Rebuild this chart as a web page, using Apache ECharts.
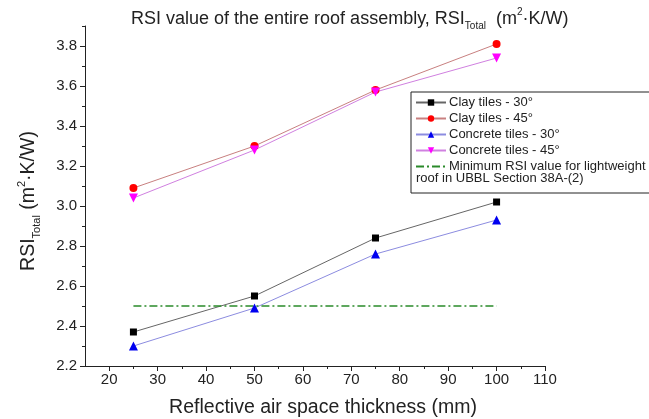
<!DOCTYPE html>
<html>
<head>
<meta charset="utf-8">
<script src="https://cdn.jsdelivr.net/npm/echarts@6/dist/echarts.min.js"></script>
<style>html,body{margin:0;padding:0;background:#fff;}#c{width:649px;height:419px;}</style>
</head>
<body>
<div id="c"></div>
<script>
const thickness = [25, 50, 75, 100];
const clay30 = [2.37, 2.55, 2.84, 3.02];
const clay45 = [3.09, 3.30, 3.58, 3.81];
const concrete30 = [2.30, 2.49, 2.76, 2.93];
const concrete45 = [3.04, 3.28, 3.57, 3.74];
const minRsiX = [25, 100];
const minRsi = [2.5, 2.5];
const xMajor = [20, 30, 40, 50, 60, 70, 80, 90, 100, 110];
const xMinor = [25, 35, 45, 55, 65, 75, 85, 95, 105];
const yMajor = [2.2, 2.4, 2.6, 2.8, 3.0, 3.2, 3.4, 3.6, 3.8];
const yMinor = [2.3, 2.5, 2.7, 2.9, 3.1, 3.3, 3.5, 3.7, 3.9];
const seriesNames = ['Clay tiles - 30°', 'Clay tiles - 45°', 'Concrete tiles - 30°', 'Concrete tiles - 45°', 'Minimum RSI value for lightweight'];

const FONT = 'Liberation Sans, Arial, sans-serif';
const pair = (xs, ys) => xs.map((x, i) => [x, ys[i]]);

const chart = echarts.init(document.getElementById('c'), null, {renderer: 'canvas'});
const axisCommon = {
  type: 'value', splitLine: {show: false},
  axisLine: {show: true, lineStyle: {color: '#222', width: 1}},
};
const option = {
  backgroundColor: '#fff',
  animation: false,
  title: {
    text: '{a|RSI value of the entire roof assembly, RSI}{sub|Total}{a|  (m}{sup|2}{a|·K/W)}',
    left: 126, top: 2,
    textStyle: {
      fontFamily: FONT, fontWeight: 'normal', color: '#222',
      rich: {
        a: {fontSize: 18, fontFamily: FONT, color: '#222', lineHeight: 24},
        sub: {fontSize: 10, fontFamily: FONT, color: '#222', verticalAlign: 'bottom', padding: [9, 0, 0, 0]},
        sup: {fontSize: 10, fontFamily: FONT, color: '#222', verticalAlign: 'top', padding: [0, 0, 9, 0]}
      }
    }
  },
  grid: {left: 85, right: 104, top: 26, bottom: 53, containLabel: false, outerBoundsMode: 'none'},
  xAxis: [
    Object.assign({}, axisCommon, {
      min: 15, max: 110, position: 'bottom',
      name: 'Reflective air space thickness (mm)', nameLocation: 'middle', nameGap: 32,
      nameTextStyle: {fontFamily: FONT, fontSize: 19.5, color: '#222', padding: [0, 0, 0, 16]},
      axisTick: {show: true, length: 5, customValues: xMajor, lineStyle: {color: '#222'}},
      axisLabel: {customValues: xMajor, fontFamily: FONT, fontSize: 15, color: '#222', margin: 6}
    }),
    Object.assign({}, axisCommon, {
      min: 15, max: 110, position: 'bottom', axisLine: {show: false},
      axisTick: {show: true, length: 3, customValues: xMinor, lineStyle: {color: '#222'}},
      axisLabel: {show: false}
    })
  ],
  yAxis: [
    Object.assign({}, axisCommon, {
      min: 2.2, max: 3.9, position: 'left',
      name: '{a|RSI}{sub|Total}{a| (m}{sup|2}{a|·K/W)}', nameLocation: 'middle', nameGap: 43, nameRotate: 90,
      nameTextStyle: {
        fontFamily: FONT, color: '#222', padding: [0, 10, 0, 0],
        rich: {
          a: {fontSize: 19.5, fontFamily: FONT, color: '#222', lineHeight: 26},
          sub: {fontSize: 11, fontFamily: FONT, color: '#222', verticalAlign: 'bottom', padding: [10, 0, 0, 0]},
          sup: {fontSize: 11, fontFamily: FONT, color: '#222', verticalAlign: 'top', padding: [0, 0, 10, 0]}
        }
      },
      axisTick: {show: true, length: 5, customValues: yMajor, lineStyle: {color: '#222'}},
      axisLabel: {customValues: yMajor, fontFamily: FONT, fontSize: 15, color: '#222', margin: 8,
        formatter: v => Number(v).toFixed(1)}
    }),
    Object.assign({}, axisCommon, {
      min: 2.2, max: 3.9, position: 'left', axisLine: {show: false},
      axisTick: {show: true, length: 3, customValues: yMinor, lineStyle: {color: '#222'}},
      axisLabel: {show: false}
    })
  ],
  legend: {
    data: seriesNames.slice(0, 4).concat([{name: seriesNames[4], itemStyle: {opacity: 0}}]),
    orient: 'vertical', left: 411, top: 92,
    itemWidth: 30, itemHeight: 8, itemGap: 3,
    padding: [4, 4, 20, 4],
    borderColor: '#222', borderWidth: 1, backgroundColor: '#fff',
    textStyle: {fontFamily: FONT, fontSize: 13, color: '#222', padding: [0, 0, 0, -2]},
  },
  graphic: [{
    type: 'text', left: 416, top: 172, z: 100,
    style: {text: 'roof in UBBL Section 38A-(2)', fontFamily: FONT, fontSize: 13, fill: '#222'}
  }],
  series: [
    {name: seriesNames[0], type: 'line', data: pair(thickness, clay30), symbol: 'rect', symbolSize: 7,
      lineStyle: {color: '#666', width: 1}, itemStyle: {color: '#000'}},
    {name: seriesNames[1], type: 'line', data: pair(thickness, clay45), symbol: 'circle', symbolSize: 8,
      lineStyle: {color: '#c88080', width: 1}, itemStyle: {color: '#f00'}},
    {name: seriesNames[2], type: 'line', data: pair(thickness, concrete30), symbol: 'triangle', symbolSize: 9,
      lineStyle: {color: '#8c8ce0', width: 1}, itemStyle: {color: '#0000f0'}},
    {name: seriesNames[3], type: 'line', data: pair(thickness, concrete45), symbol: 'triangle', symbolRotate: 180, symbolSize: 9,
      lineStyle: {color: '#d080e0', width: 1}, itemStyle: {color: '#f0f'}},
    {name: seriesNames[4], type: 'line', data: pair(minRsiX, minRsi), symbol: 'none',
      lineStyle: {color: '#2a8a2a', width: 1.5, type: [8, 3, 2, 3]}, itemStyle: {color: '#2a8a2a'}}
  ]
};
chart.setOption(option);
</script>
</body>
</html>
